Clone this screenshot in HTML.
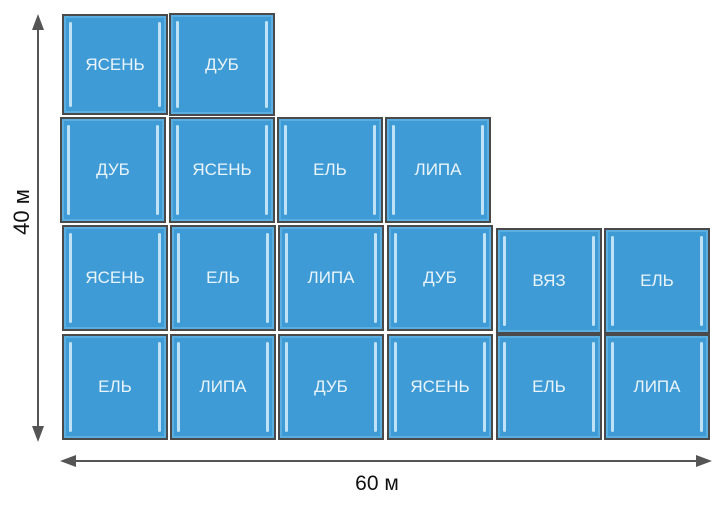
<!DOCTYPE html><html><head><meta charset="utf-8"><style>
body{margin:0;width:724px;height:505px;background:#fff;position:relative;overflow:hidden;font-family:"Liberation Sans",sans-serif}
.t{position:absolute;width:106px;height:106px;background:#3f9bd6;border:2px solid #4a4a4a;box-sizing:border-box;color:#eaf4fb;font-size:17px;display:flex;align-items:center;justify-content:center;box-shadow:inset 0 0 0 2px #5aaee0}
.t:before,.t:after{content:"";position:absolute;top:6px;bottom:6px;width:3px;background:#bfe2f6;border-radius:2px}
.t:before{left:5px}.t:after{right:5px}
</style></head><body>
<svg width="724" height="505" style="position:absolute;left:0;top:0">
<line x1="38" y1="28" x2="38" y2="428" stroke="#555" stroke-width="2"/>
<polygon points="38,14 32,30 44,30" fill="#555"/><polygon points="38,442 32,426 44,426" fill="#555"/>
<line x1="72" y1="461" x2="698" y2="461" stroke="#555" stroke-width="2"/>
<polygon points="60,461 76,455 76,467" fill="#555"/><polygon points="712,461 696,455 696,467" fill="#555"/>
<text x="377" y="490" font-size="21" text-anchor="middle" font-family="Liberation Sans" fill="#111">60 м</text>
<text transform="translate(29,212) rotate(-90)" font-size="22" text-anchor="middle" font-family="Liberation Sans" fill="#111">40 м</text>
</svg>
<div class="t" style="left:62px;top:14px;height:101px">ЯСЕНЬ</div>
<div class="t" style="left:169px;top:13px;height:103px">ДУБ</div>
<div class="t" style="left:60px;top:117px">ДУБ</div>
<div class="t" style="left:169px;top:117px">ЯСЕНЬ</div>
<div class="t" style="left:277px;top:117px">ЕЛЬ</div>
<div class="t" style="left:385px;top:117px">ЛИПА</div>
<div class="t" style="left:62px;top:225px">ЯСЕНЬ</div>
<div class="t" style="left:170px;top:225px">ЕЛЬ</div>
<div class="t" style="left:278px;top:225px">ЛИПА</div>
<div class="t" style="left:387px;top:225px">ДУБ</div>
<div class="t" style="left:496px;top:228px">ВЯЗ</div>
<div class="t" style="left:604px;top:228px">ЕЛЬ</div>
<div class="t" style="left:62px;top:334px">ЕЛЬ</div>
<div class="t" style="left:170px;top:334px">ЛИПА</div>
<div class="t" style="left:278px;top:334px">ДУБ</div>
<div class="t" style="left:387px;top:334px">ЯСЕНЬ</div>
<div class="t" style="left:496px;top:334px">ЕЛЬ</div>
<div class="t" style="left:604px;top:334px">ЛИПА</div>
</body></html>
